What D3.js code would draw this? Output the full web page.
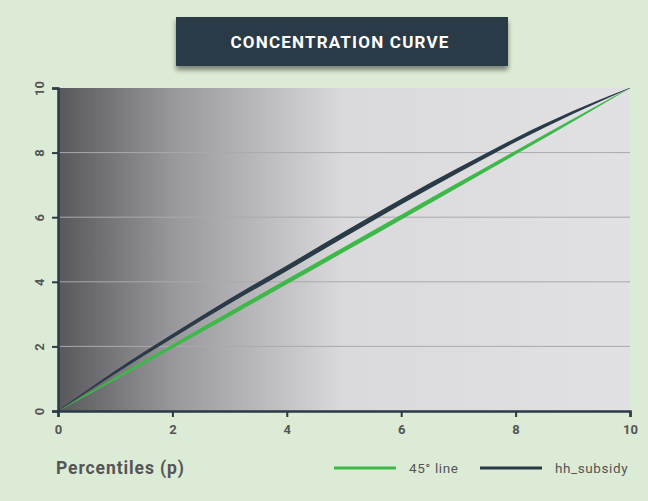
<!DOCTYPE html>
<html><head><meta charset="utf-8">
<script src="https://cdn.jsdelivr.net/npm/d3@7"></script>
<style>body{margin:0;background:#dcebd5;}svg{display:block;}</style>
</head><body>
<svg id="c" width="648" height="501"></svg>
<script>
const percentiles = [0,1,2,3,4,5,6,7,8,9,10];
const line45 = [0,1,2,3,4,5,6,7,8,9,10];
const hhSubsidy = [0,1.2,2.32,3.4,4.42,5.46,6.48,7.45,8.39,9.24,10];
const xTicks = [0,2,4,6,8,10];
const yTicks = [0,2,4,6,8,10];
const seriesNames = ["45° line","hh_subsidy"];
const colors = ["#3db849","#2a3a47"];

const svg = d3.select("#c");
const W=648,H=501;
svg.append("rect").attr("width",W).attr("height",H).attr("fill","#dcebd5");
const m={l:58,r:630,t:88,b:411};
const x=d3.scaleLinear().domain([0,10]).range([m.l,m.r]);
const y=d3.scaleLinear().domain([0,10]).range([m.b,m.t]);
const defs=svg.append("defs");
const g=defs.append("linearGradient").attr("id","bg").attr("x1","0").attr("x2","1").attr("y1","0").attr("y2","0");
g.append("stop").attr("offset","0").attr("stop-color","#58585c");
g.append("stop").attr("offset","0.2").attr("stop-color","#98989c");
g.append("stop").attr("offset","0.5").attr("stop-color","#dadadd");
g.append("stop").attr("offset","1").attr("stop-color","#e1e1e4");
const f=defs.append("filter").attr("id","sh").attr("x","-10%").attr("y","-10%").attr("width","120%").attr("height","150%");
f.append("feGaussianBlur").attr("in","SourceAlpha").attr("stdDeviation","2.5");
f.append("feOffset").attr("dx","0").attr("dy","4").attr("result","o");
f.append("feComponentTransfer").attr("in","o").attr("result","b").append("feFuncA").attr("type","linear").attr("slope","0.45");
const fm=f.append("feMerge");fm.append("feMergeNode").attr("in","b");fm.append("feMergeNode").attr("in","SourceGraphic");

svg.append("rect").attr("x",m.l).attr("y",m.t).attr("width",m.r-m.l).attr("height",m.b-m.t).attr("fill","url(#bg)");
// grid
svg.append("g").selectAll("line").data(yTicks.filter(d=>d>0&&d<10)).join("line")
 .attr("x1",m.l).attr("x2",m.r).attr("y1",d=>y(d)).attr("y2",d=>y(d))
 .attr("stroke","#a9a9ae").attr("stroke-width",1);

// tapered lines
function tapered(vals,color,maxW){
  const pts=percentiles.map((p,i)=>[p,vals[i]]);
  const hw=d=>(0.6+maxW*Math.pow(Math.sin(Math.PI*d[0]/10),0.6))/2;
  const area=d3.area().curve(d3.curveMonotoneX).x(d=>x(d[0]))
   .y0(d=>y(d[1])-hw(d)).y1(d=>y(d[1])+hw(d));
  svg.append("path").datum(pts).attr("d",area).attr("fill",color);
}
tapered(line45,colors[0],4.5);
tapered(hhSubsidy,colors[1],5);

// axes
const ax=svg.append("g").attr("transform",`translate(0,${m.b})`).call(d3.axisBottom(x).tickValues(xTicks).tickSize(6).tickPadding(8).tickFormat(d3.format("d")));
ax.select(".domain").attr("stroke","#2a3a47").attr("stroke-width",2.5);
ax.selectAll(".tick line").attr("stroke","#2a3a47").attr("stroke-width",2);
ax.selectAll("text").attr("fill","#555").attr("font-family","Roboto").attr("font-weight","bold").attr("font-size",13);
const ay=svg.append("g").attr("transform",`translate(${m.l},0)`).call(d3.axisLeft(y).tickValues(yTicks).tickSize(6).tickPadding(8).tickFormat(d3.format("d")));
ay.select(".domain").attr("stroke","#2a3a47").attr("stroke-width",2.5);
ay.selectAll(".tick line").attr("stroke","#2a3a47").attr("stroke-width",2);
ay.selectAll("text").attr("fill","#555").attr("font-family","Roboto").attr("font-weight","bold").attr("font-size",13)
 .attr("text-anchor","middle").attr("dy",0).attr("x",0)
 .attr("transform","translate(-19,0) rotate(-90)").attr("dominant-baseline","central");

// title
svg.append("rect").attr("x",176).attr("y",17).attr("width",332).attr("height",49).attr("fill","#2b3a46").attr("filter","url(#sh)");
svg.append("text").attr("x",340).attr("y",48).attr("text-anchor","middle").attr("fill","#fff")
 .attr("font-family","Roboto").attr("font-weight","bold").attr("font-size",17).attr("letter-spacing",1.2).text("CONCENTRATION CURVE");

// x label
svg.append("text").attr("x",56).attr("y",474).attr("fill","#555").attr("font-family","Roboto").attr("font-weight","bold").attr("font-size",17.5).attr("letter-spacing",0.9).text("Percentiles (p)");

// legend
const lg=[{x:334,name:seriesNames[0],c:colors[0]},{x:480,name:seriesNames[1],c:colors[1]}];
lg.forEach(d=>{
  svg.append("line").attr("x1",d.x).attr("x2",d.x+62).attr("y1",468).attr("y2",468).attr("stroke",d.c).attr("stroke-width",3);
  svg.append("text").attr("x",d.x+75).attr("y",473).attr("fill","#555").attr("font-family","Roboto").attr("font-size",13.5).attr("letter-spacing",0.6).text(d.name);
});
</script>
</body></html>
